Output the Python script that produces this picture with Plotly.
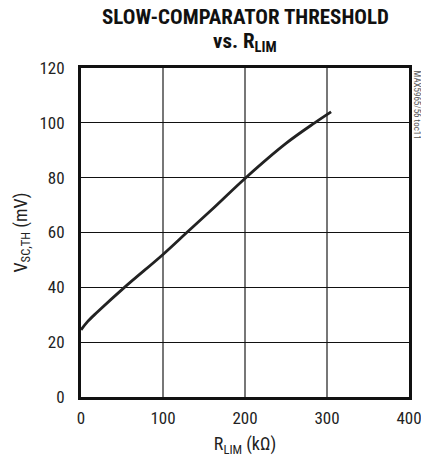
import plotly.graph_objects as go

r_lim = [0, 8, 20, 53, 100, 129, 160, 201, 250, 285, 305]
v_th = [24.5, 27.5, 31, 40, 52, 60, 68.5, 80, 92.5, 100, 104]

x_ticks = [0, 100, 200, 300, 400]
y_ticks = [0, 20, 40, 60, 80, 100, 120]

FONT = "Roboto Condensed, DejaVu Sans Condensed, Liberation Sans, sans-serif"
L, R, T, B = 81, 12, 68, 60
PH = 457 - T - B

fig = go.Figure()
fig.add_trace(go.Scatter(x=r_lim, y=v_th, mode="lines",
                         line=dict(color="#222222", width=2.8), line_shape="spline",
                         showlegend=False, hoverinfo="skip"))

fig.update_layout(
    width=421, height=457,
    margin=dict(l=L, r=R, t=T, b=B, autoexpand=False),
    paper_bgcolor="white", plot_bgcolor="white",
    font=dict(family=FONT, size=17, color="#222222"),
    xaxis=dict(range=[0, 400], tickvals=x_ticks, showgrid=True, gridcolor="#777777",
               gridwidth=1.5, zeroline=False, showline=True, linecolor="#111111",
               linewidth=3, mirror=True, ticks="", ticklen=0, automargin=False,
               ticklabelstandoff=4, ticklabeloverflow="allow", tickfont=dict(size=17),
               title=dict(text="R<sub>LIM</sub> (kΩ)", standoff=12,
                          font=dict(family=FONT, size=18))),
    yaxis=dict(range=[0, 120], tickvals=y_ticks, showgrid=True, gridcolor="#111111",
               gridwidth=1, zeroline=False, showline=True, linecolor="#111111",
               linewidth=3, mirror=True, ticks="", ticklen=0, automargin=False,
               ticklabelstandoff=10, ticklabeloverflow="allow", tickfont=dict(size=17),
               title=dict(text="V<sub>SC,TH</sub> (mV)", standoff=8,
                          font=dict(family=FONT, size=18))),
    annotations=[
        dict(text="<b>SLOW-COMPARATOR THRESHOLD</b>", x=0.5, xref="paper",
             y=1 + (T - 17) / PH, yref="paper", yanchor="middle", showarrow=False,
             font=dict(family=FONT, size=21, color="#111111")),
        dict(text="<b>vs. R<sub>LIM</sub></b>", x=0.5, xref="paper",
             y=1 + (T - 43) / PH, yref="paper", yanchor="middle", showarrow=False,
             font=dict(family=FONT, size=21, color="#111111")),
        dict(text="MAX5965/56 toc11", x=1.0, xref="paper", xshift=8,
             y=1.0, yref="paper", yshift=0, xanchor="center", yanchor="top",
             textangle=90, showarrow=False,
             font=dict(family=FONT, size=9, color="#555555")),
    ],
)

fig.write_html("out.html", config={"displayModeBar": False},
               post_script="document.body.style.margin='0';document.body.style.overflow='hidden';")
